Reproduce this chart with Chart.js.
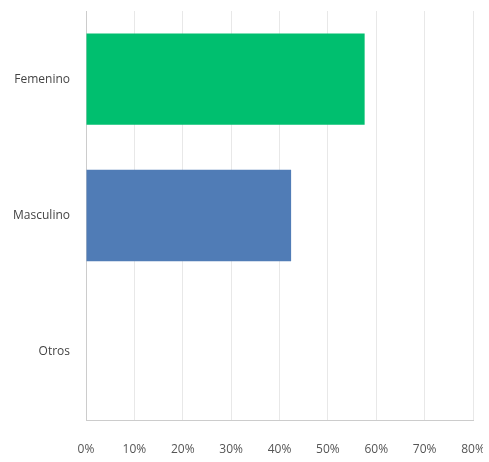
<!DOCTYPE html>
<html>
<head>
<meta charset="utf-8">
<script src="https://cdn.jsdelivr.net/npm/chart.js@4/dist/chart.umd.min.js"></script>
<style>
  html, body { margin: 0; padding: 0; background: #fff; overflow: hidden; }
  #wrap { width: 483px; height: 462px; overflow: hidden; }
</style>
</head>
<body>
<div id="wrap"><canvas id="c" width="500" height="462"></canvas></div>
<script>
const categories = ["Femenino", "Masculino", "Otros"];
const percentages = [57.6, 42.4, 0];
const barColors = ["#00bf6f", "#507cb6", "#999999"];
const tickValues = [0, 10, 20, 30, 40, 50, 60, 70, 80];

function noPadding(scale) {
    scale.paddingTop = 0;
    scale.paddingBottom = 0;
    scale.paddingLeft = 0;
    scale.paddingRight = 0;
}

new Chart(document.getElementById("c"), {
    type: "bar",
    data: {
        labels: categories,
        datasets: [{
            data: percentages,
            backgroundColor: barColors,
            borderWidth: 0,
            categoryPercentage: 1,
            barPercentage: 0.67
        }]
    },
    options: {
        indexAxis: "y",
        responsive: false,
        animation: false,
        layout: { padding: { top: 11, right: 27 } },
        plugins: { legend: { display: false }, tooltip: { enabled: false } },
        scales: {
            x: {
                min: 0,
                max: 80,
                afterBuildTicks(scale) {
                    scale.ticks = tickValues.map(v => ({ value: v }));
                },
                afterFit(scale) { scale.height = 42; noPadding(scale); },
                grid: { color: "#e8e8e8", drawTicks: false },
                border: { display: true, color: "#cccccc" },
                ticks: {
                    padding: 22,
                    color: "#555",
                    font: { family: "Open Sans", size: 12 },
                    callback: v => v + "%"
                }
            },
            y: {
                afterFit(scale) { scale.width = 86; noPadding(scale); },
                grid: { display: false, drawTicks: false },
                border: { display: true, color: "#cccccc" },
                ticks: {
                    padding: 16,
                    color: "#444",
                    font: { family: "Open Sans", size: 12 }
                }
            }
        }
    }
});
</script>
</body>
</html>
